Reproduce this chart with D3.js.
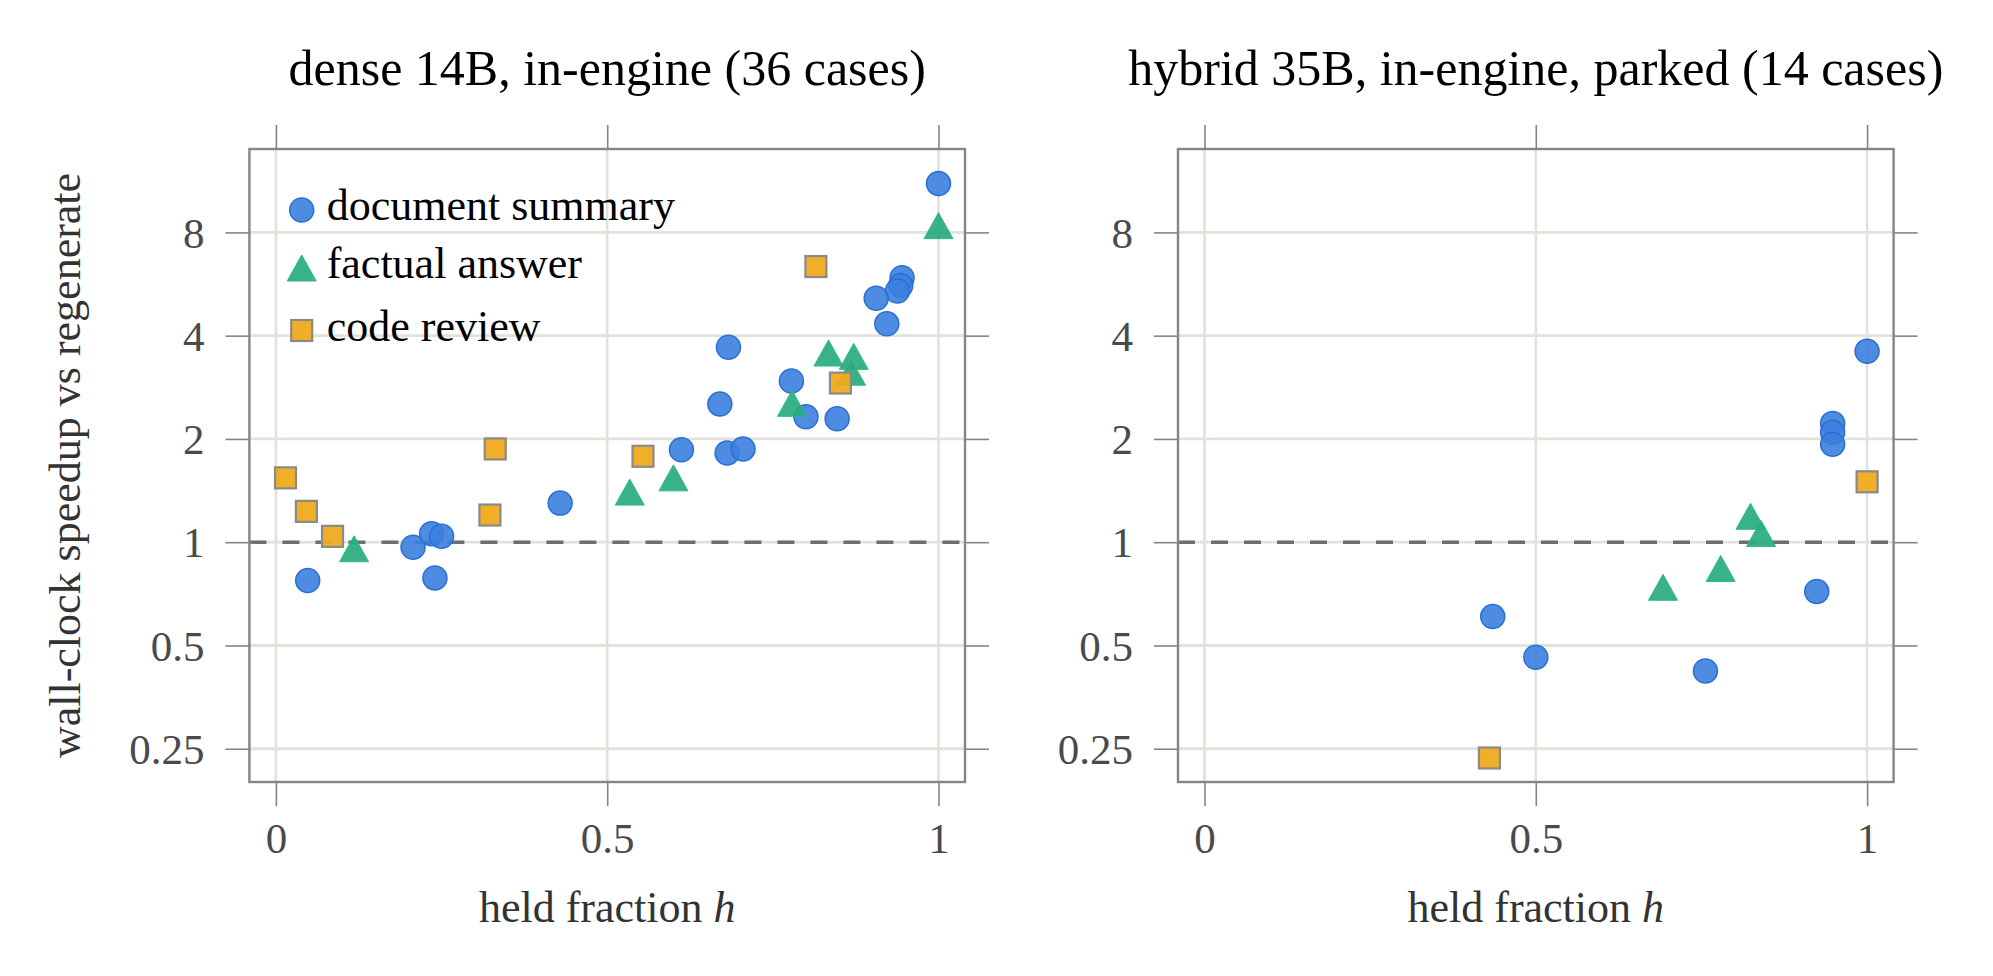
<!DOCTYPE html>
<html>
<head>
<meta charset="utf-8">
<script src="https://cdn.jsdelivr.net/npm/d3@7"></script>
<style>
    body { margin: 0; background: #fff; }
    svg text { font-family: "Liberation Serif", "Times New Roman", serif; }
</style>
</head>
<body>
<div id="chart"></div>
<script>
const categories = ["document summary", "factual answer", "code review"];
const panelTitles = ["dense 14B, in-engine (36 cases)", "hybrid 35B, in-engine, parked (14 cases)"];
const xTicks = [0, 0.5, 1];
const xTickLabels = ["0", "0.5", "1"];
const yTicks = [0.25, 0.5, 1, 2, 4, 8];
const yTickLabels = ["0.25", "0.5", "1", "2", "4", "8"];

// [held fraction h, speedup vs regenerate]
const denseSummary = [
    [1.0, 11.1], [0.945, 5.9], [0.943, 5.6], [0.938, 5.4], [0.906, 5.14], [0.922, 4.33],
    [0.683, 3.7], [0.778, 2.95], [0.67, 2.53], [0.80, 2.32], [0.847, 2.29],
    [0.612, 1.86], [0.681, 1.82], [0.705, 1.87], [0.429, 1.3],
    [0.048, 0.773], [0.207, 0.967], [0.235, 1.058], [0.25, 1.041], [0.24, 0.787]
];
const denseFactual = [
    [1.0, 8.37], [0.834, 3.56], [0.872, 3.48], [0.868, 3.13], [0.779, 2.54],
    [0.6, 1.54], [0.534, 1.4], [0.118, 0.957]
];
const denseCode = [
    [0.815, 6.36], [0.852, 2.91], [0.331, 1.87], [0.554, 1.78],
    [0.0145, 1.54], [0.046, 1.23], [0.323, 1.2], [0.0855, 1.04]
];
const hybridSummary = [
    [1.0, 3.6], [0.948, 2.22], [0.948, 2.09], [0.948, 1.93],
    [0.924, 0.718], [0.435, 0.607], [0.5, 0.462], [0.756, 0.421]
];
const hybridFactual = [[0.824, 1.19], [0.84, 1.06], [0.779, 0.838], [0.692, 0.739]];
const hybridCode = [[1.0, 1.5], [0.43, 0.235]];

const markerStyles = [
    { shape: 'circle', fill: '#3b80df', stroke: '#2a6fd6', width: 1.5, opacity: 0.9 },
    { shape: 'triangle', fill: '#27ab7c', stroke: '#30b987', width: 1, opacity: 0.92 },
    { shape: 'square', fill: '#f0aa1c', stroke: '#8a8a8a', width: 2.2, opacity: 0.95 }
];

function triPath(w, h) {
    return `M0,${-h / 2}L${w / 2},${h / 2}L${-w / 2},${h / 2}Z`;
}

function drawMarker(g, style, cx, cy) {
    let m;
    if (style.shape === 'circle') {
        m = g.append('circle').attr('cx', cx).attr('cy', cy).attr('r', 12);
    } else if (style.shape === 'triangle') {
        m = g.append('path').attr('d', triPath(29, 26))
            .attr('transform', `translate(${cx},${cy})`);
    } else {
        m = g.append('rect').attr('x', cx - 10.5).attr('y', cy - 10.5)
            .attr('width', 21).attr('height', 21);
    }
    m.style('fill', style.fill)
        .style('fill-opacity', style.opacity)
        .style('stroke', style.stroke)
        .style('stroke-width', style.width);
    return m;
}

class SpeedupPanel {
    constructor(svg, left, title, series, showYLabel, showLegend) {
        this.svg = svg;
        this.left = left;
        this.title = title;
        this.series = series;
        this.showYLabel = showYLabel;
        this.showLegend = showLegend;
        this.initVis();
    }

    initVis() {
        let vis = this;
        vis.width = 715.6;
        vis.top = 149;
        vis.bottom = 782;
        vis.right = vis.left + vis.width;

        vis.x = d3.scaleLinear().domain([-0.04, 1.04]).range([vis.left, vis.right]);
        vis.y = d3.scaleLog().base(2).domain([0.2, 14]).range([vis.bottom, vis.top]);

        vis.g = vis.svg.append('g');

        // grid
        vis.g.selectAll('.xgrid')
            .data(xTicks).enter().append('line')
            .attr('x1', d => vis.x(d)).attr('x2', d => vis.x(d))
            .attr('y1', vis.top).attr('y2', vis.bottom)
            .style('stroke', '#e2e2db').style('stroke-width', 2.6);
        vis.g.selectAll('.ygrid')
            .data(yTicks).enter().append('line')
            .attr('x1', vis.left).attr('x2', vis.right)
            .attr('y1', d => vis.y(d)).attr('y2', d => vis.y(d))
            .style('stroke', '#e2e2db').style('stroke-width', 2.8);

        // axes (ticks point outward on all four sides)
        let axes = [
            [d3.axisBottom(vis.x).tickFormat((d, i) => xTickLabels[i]).tickPadding(16), `translate(0,${vis.bottom})`],
            [d3.axisTop(vis.x).tickFormat(''), `translate(0,${vis.top})`],
            [d3.axisLeft(vis.y).tickFormat((d, i) => yTickLabels[i]).tickPadding(21), `translate(${vis.left},0)`],
            [d3.axisRight(vis.y).tickFormat(''), `translate(${vis.right},0)`]
        ];
        axes.forEach(([axis, tr], i) => {
            axis.tickSize(24).tickValues(i < 2 ? xTicks : yTicks);
            let a = vis.g.append('g').attr('transform', tr).call(axis);
            a.select('.domain').remove();
            a.selectAll('line').style('stroke', '#858585').style('stroke-width', 1.6);
            a.selectAll('text')
                .style('font-family', '"Liberation Serif", "Times New Roman", serif')
                .style('font-size', '43px')
                .style('fill', '#4a4a4a');
        });
        vis.g.selectAll('.tick text').filter(function () {
            return this.getAttribute('dy') === '0.32em';
        }).attr('dy', '0.34em');

        // reference line at speedup = 1
        vis.g.append('line')
            .attr('x1', vis.left).attr('x2', vis.right)
            .attr('y1', vis.y(1)).attr('y2', vis.y(1))
            .style('stroke', '#6e6e6e')
            .style('stroke-width', 3.4)
            .style('stroke-dasharray', '17,16');

        // points
        vis.series.forEach((data, i) => {
            let sg = vis.g.append('g').attr('class', 'series-' + i);
            data.forEach(d => drawMarker(sg, markerStyles[i], vis.x(d[0]), vis.y(d[1])));
        });

        // frame
        vis.g.append('rect')
            .attr('x', vis.left).attr('y', vis.top)
            .attr('width', vis.width).attr('height', vis.bottom - vis.top)
            .style('fill', 'none').style('stroke', '#858585').style('stroke-width', 2.4);

        // title
        vis.g.append('text')
            .attr('x', (vis.left + vis.right) / 2).attr('y', 85)
            .attr('text-anchor', 'middle')
            .style('font-size', '50px').style('fill', '#000')
            .text(vis.title);

        // x label
        let xl = vis.g.append('text')
            .attr('x', (vis.left + vis.right) / 2).attr('y', 922)
            .attr('text-anchor', 'middle')
            .style('font-size', '44px').style('fill', '#333');
        xl.append('tspan').text('held fraction ');
        xl.append('tspan').style('font-style', 'italic').text('h');

        if (vis.showYLabel) {
            vis.g.append('text')
                .attr('transform', `translate(80,${(vis.top + vis.bottom) / 2}) rotate(-90)`)
                .attr('text-anchor', 'middle')
                .style('font-size', '44px').style('fill', '#333')
                .text('wall-clock speedup vs regenerate');
        }

        if (vis.showLegend) {
            let legend = vis.g.append('g').attr('class', 'legend');
            let rowY = [210, 268, 330.5];
            categories.forEach((c, i) => {
                drawMarker(legend, markerStyles[i], vis.left + 52.3, rowY[i]);
                legend.append('text')
                    .attr('x', vis.left + 77.3).attr('y', rowY[i] + 10)
                    .style('font-size', '44px').style('fill', '#000')
                    .text(c);
            });
        }
    }
}

const svg = d3.select('#chart').append('svg')
    .attr('width', 1993).attr('height', 976)
    .style('background', '#fff');

new SpeedupPanel(svg, 249.4, panelTitles[0], [denseSummary, denseFactual, denseCode], true, true);
new SpeedupPanel(svg, 1178, panelTitles[1], [hybridSummary, hybridFactual, hybridCode], false, false);
</script>
</body>
</html>
